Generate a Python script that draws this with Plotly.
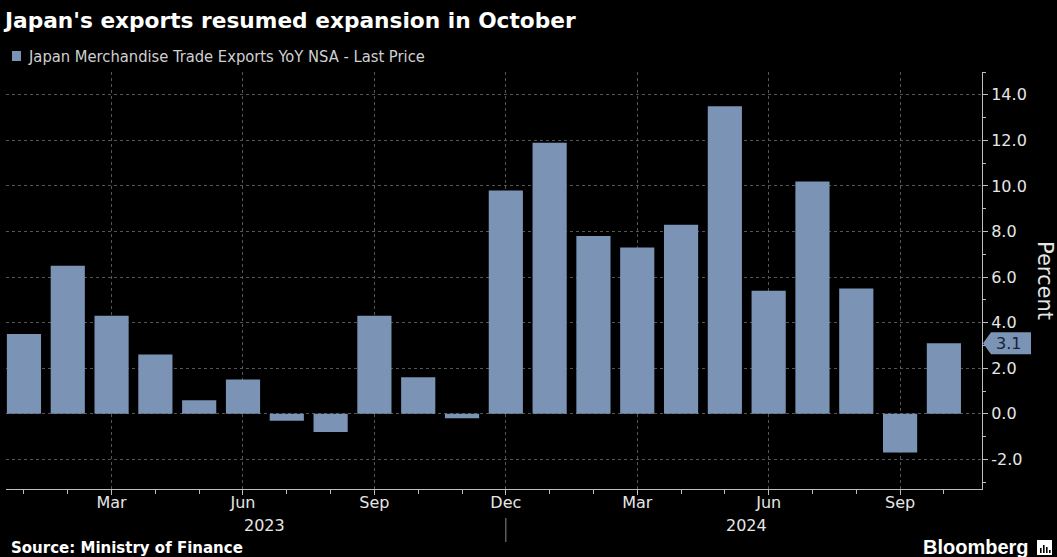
import plotly.graph_objects as go

# ---- data ----
months = ["Jan", "Feb", "Mar", "Apr", "May", "Jun", "Jul", "Aug", "Sep", "Oct", "Nov", "Dec",
          "Jan", "Feb", "Mar", "Apr", "May", "Jun", "Jul", "Aug", "Sep", "Oct"]
years = [2023] * 12 + [2024] * 10
values = [3.5, 6.5, 4.3, 2.6, 0.6, 1.5, -0.3, -0.8, 4.3, 1.6, -0.2, 9.8,
          11.9, 7.8, 7.3, 8.3, 13.5, 5.4, 10.2, 5.5, -1.7, 3.1]
major_months = ["Mar", "Jun", "Sep", "Dec"]
y_ticks = [-2, 0, 2, 4, 6, 8, 10, 12, 14]

title = "Japan's exports resumed expansion in October"
series_name = "Japan Merchandise Trade Exports YoY NSA - Last Price"
source = "Source: Ministry of Finance"

BAR = "#7b93b5"
FONT = "DejaVu Sans, Verdana, sans-serif"
FONT_C = "DejaVu Sans Condensed, DejaVu Sans, sans-serif"
TXT = "#e6e6e6"
GRID = "#555555"
AXIS = "#bdbdbd"

W, H = 1057, 557
L, R, T, B = 6, 75, 72, 68
pw, ph = W - L - R, H - T - B

xs = list(range(len(values)))
tickvals = [i for i, m in enumerate(months) if m in major_months]
ticktext = [months[i] for i in tickvals]

fig = go.Figure()
fig.add_trace(go.Bar(x=xs, y=values, marker=dict(color=BAR, line=dict(width=0)),
                     width=0.78, name=series_name, showlegend=False))

y_range = [-3.3, 15.0]
x_range = [-0.41, len(values) - 1 + 0.87]

def px_x(px):
    return (px - L) / pw

def px_y(py):
    return (H - B - py) / ph

fig.update_layout(
    width=W, height=H,
    margin=dict(l=L, r=R, t=T, b=B),
    paper_bgcolor="#000000", plot_bgcolor="#000000",
    font=dict(family=FONT, color=TXT, size=16),
    title=dict(text=f"<b>{title}</b>", x=5 / W, xanchor="left", xref="container",
               y=1 - 20 / H, yanchor="middle", yref="container",
               font=dict(size=21.7, color="#ffffff", family=FONT)),
    xaxis=dict(range=x_range, tickvals=tickvals, ticktext=ticktext,
               showgrid=True, gridcolor=GRID, griddash="dot", gridwidth=1,
               ticks="outside", ticklen=5, tickcolor=AXIS, ticklabelstandoff=-6,
               showline=True, linecolor=AXIS, linewidth=1,
               tickfont=dict(size=16, color=TXT, family=FONT), zeroline=False,
               minor=dict(dtick=1, tick0=0, ticks="outside", ticklen=4,
                          tickcolor=AXIS, showgrid=False)),
    yaxis=dict(range=y_range, side="right", tickvals=y_ticks,
               ticktext=[f"{v:.1f}" for v in y_ticks],
               showgrid=True, gridcolor=GRID, griddash="dot", gridwidth=1,
               ticks="outside", ticklen=5, tickcolor=AXIS,
               showline=True, linecolor=AXIS, linewidth=1, zeroline=False,
               tickfont=dict(size=16, color=TXT, family=FONT),
               minor=dict(dtick=1, tick0=0, ticks="outside", ticklen=3,
                          tickcolor=AXIS, showgrid=False)),
)

ann = []
shapes = []

# manual legend
shapes.append(dict(type="rect", xref="paper", yref="paper",
                   x0=px_x(12), x1=px_x(21), y0=px_y(61), y1=px_y(51),
                   fillcolor=BAR, line=dict(width=0)))
ann.append(dict(text=series_name, xref="paper", yref="paper", x=px_x(26), y=px_y(56),
                xanchor="left", yanchor="middle", showarrow=False,
                font=dict(size=16.4, color="#d0d0d0", family=FONT_C)))

# year labels and divider
for yr in sorted(set(years)):
    idx = [i for i, y in enumerate(years) if y == yr]
    ann.append(dict(text=str(yr), xref="x", yref="paper", x=(idx[0] + idx[-1]) / 2,
                    y=px_y(525), xanchor="center", yanchor="middle", showarrow=False,
                    font=dict(size=16, color=TXT)))
for i in range(1, len(years)):
    if years[i] != years[i - 1]:
        shapes.append(dict(type="line", xref="x", yref="paper", x0=i - 1, x1=i - 1,
                           y0=px_y(518), y1=px_y(542), line=dict(color="#8a8a8a", width=1)))

# Percent axis title
ann.append(dict(text="Percent", xref="paper", yref="paper", x=px_x(1045), y=px_y(280),
                textangle=90, showarrow=False, xanchor="center", yanchor="middle",
                font=dict(size=21, color=TXT)))

# last value tag
last = values[-1]
hu = 11 * (y_range[1] - y_range[0]) / ph
tip, bx0, bx1 = px_x(983), px_x(991), px_x(1031)
shapes.append(dict(type="path", xref="paper", yref="y",
                   path=f"M {tip},{last} L {bx0},{last + hu} L {bx1},{last + hu} "
                        f"L {bx1},{last - hu} L {bx0},{last - hu} Z",
                   fillcolor=BAR, line=dict(width=0)))
ann.append(dict(text=f"{last:.1f}", xref="paper", yref="y", x=(bx0 + bx1) / 2 - 0.003, y=last,
                xanchor="center", yanchor="middle", showarrow=False,
                font=dict(size=16, color="#17233a")))

# source and branding
ann.append(dict(text=f"<b>{source}</b>", xref="paper", yref="paper", x=px_x(9), y=px_y(548),
                xanchor="left", yanchor="middle", showarrow=False,
                font=dict(size=15, color="#ffffff")))
ann.append(dict(text="<b>Bloomberg</b>", xref="paper", yref="paper", x=px_x(1031), y=px_y(547),
                xanchor="right", yanchor="middle", showarrow=False,
                font=dict(size=20, color="#ffffff", family="Liberation Sans, Arial, sans-serif")))
shapes.append(dict(type="rect", xref="paper", yref="paper", x0=px_x(1037), x1=px_x(1052),
                   y0=px_y(555), y1=px_y(540), fillcolor="#ffffff", line=dict(width=0)))
for bx, top in [(1040, 548), (1043, 545), (1046, 547), (1049, 550)]:
    shapes.append(dict(type="rect", xref="paper", yref="paper", x0=px_x(bx), x1=px_x(bx + 1.6),
                       y0=px_y(553), y1=px_y(top), fillcolor="#000000", line=dict(width=0)))

fig.update_layout(annotations=ann, shapes=shapes)
fig.write_html("out.html")
